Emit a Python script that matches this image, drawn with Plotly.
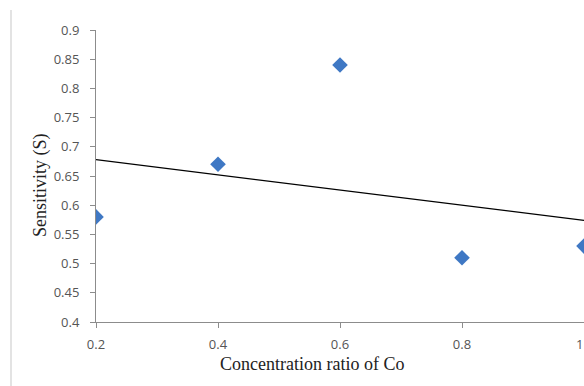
import numpy as np
import plotly.graph_objects as go

# Data
co_ratio = [0.2, 0.4, 0.6, 0.8, 1.0]
sensitivity = [0.58, 0.67, 0.84, 0.51, 0.53]
y_ticks = [0.4, 0.45, 0.5, 0.55, 0.6, 0.65, 0.7, 0.75, 0.8, 0.85, 0.9]
x_ticks = [0.2, 0.4, 0.6, 0.8, 1.0]
x_tick_labels = ["0.2", "0.4", "0.6", "0.8", "1"]
y_tick_labels = ["0.4", "0.45", "0.5", "0.55", "0.6", "0.65", "0.7", "0.75", "0.8", "0.85", "0.9"]

# Linear trendline (least squares)
slope, intercept = np.polyfit(co_ratio, sensitivity, 1)
trend_x = [min(co_ratio), max(co_ratio)]
trend_y = [slope * v + intercept for v in trend_x]

W, H = 584, 386
L, R, T, B = 96, 0, 30, 386 - 322
pw, ph = W - L - R, H - T - B

def px_x(p):
    return (p - L) / pw

def px_y(p):
    return 1 - (p - T) / ph

fig = go.Figure()
fig.add_trace(go.Scatter(
    x=trend_x, y=trend_y, mode="lines",
    line=dict(color="#000000", width=1.3), showlegend=False, hoverinfo="skip"))
fig.add_trace(go.Scatter(
    x=co_ratio, y=sensitivity, mode="markers",
    marker=dict(symbol="diamond", size=12, color="#3F78C4"),
    showlegend=False))

tick_font = dict(family="Open Sans, Liberation Sans, sans-serif", size=13, color="#555555")
axis_common = dict(
    showgrid=False, zeroline=False, showline=True, linecolor="#8C8C8C", linewidth=1,
    ticks="outside", ticklen=5, tickcolor="#8C8C8C", ticklabeloverflow="allow",
    automargin=False, tickfont=tick_font,
)

# last x tick label sits at the right edge; drawn right-aligned so it stays visible
x_text_on_axis = x_tick_labels[:-1] + [""]
fig.update_xaxes(range=[0.2, 1.0], tickvals=x_ticks, ticktext=x_text_on_axis,
                 ticklabelstandoff=5, **axis_common)
fig.update_yaxes(range=[0.4, 0.9], tickvals=y_ticks, ticktext=y_tick_labels,
                 ticklabelstandoff=8, **axis_common)

serif = dict(family="Liberation Serif, Times New Roman, serif", size=18, color="#222222")
fig.update_layout(
    width=W, height=H,
    margin=dict(l=L, r=R, t=T, b=B, pad=0),
    paper_bgcolor="white", plot_bgcolor="white",
    annotations=[
        dict(text=x_tick_labels[-1], xref="x", yref="paper",
             x=x_ticks[-1], y=px_y(344), showarrow=False, font=tick_font,
             xanchor="right", yanchor="middle", xshift=1),
        dict(text="Concentration ratio of Co", xref="paper", yref="paper",
             x=px_x(312), y=px_y(364), showarrow=False, font=serif,
             xanchor="center", yanchor="middle"),
        dict(text="Sensitivity (S)", xref="paper", yref="paper",
             x=px_x(40), y=px_y(185), showarrow=False, font=serif, textangle=-90,
             xanchor="center", yanchor="middle"),
    ],
    shapes=[
        dict(type="line", xref="paper", yref="paper",
             x0=px_x(11), x1=px_x(11), y0=px_y(10), y1=px_y(386),
             line=dict(color="#E3E3E3", width=2)),
    ],
)

fig.write_html(
    "out.html",
    config={"displayModeBar": False},
    post_script="document.body.style.margin='0px';document.body.style.overflow='hidden';",
)
